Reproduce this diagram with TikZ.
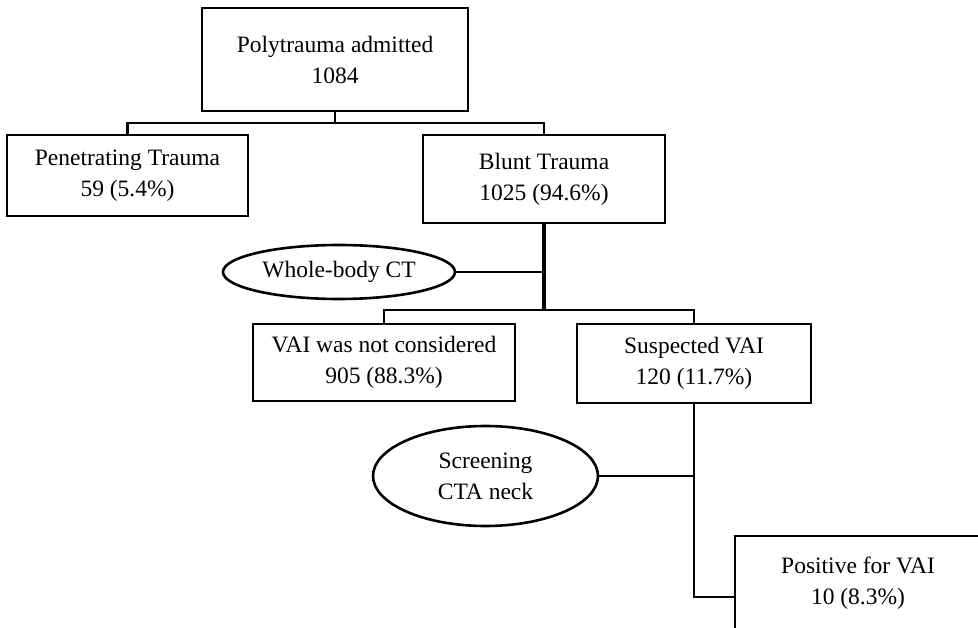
\documentclass[tikz,border=0pt]{standalone}
\usepackage{fontspec}
\setmainfont{Liberation Serif}
\usetikzlibrary{shapes.geometric}
\begin{document}
\begin{tikzpicture}[x=1pt,y=-1pt,
  every node/.style={font=\fontsize{23.5}{31}\selectfont, align=center, inner sep=0pt},
  box/.style={draw, line width=2.8pt, rectangle},
  oval/.style={draw, line width=2.6pt, ellipse},
  link/.style={line width=2.6pt},
  boldlink/.style={line width=4pt}]
\useasboundingbox (0,0) rectangle (978,628);

% boxes
\node[box, minimum width=266pt, minimum height=103pt] (top) at (335,59.5) {Polytrauma admitted\\1084};
\node[box, minimum width=241pt, minimum height=81pt] (pen) at (127.5,175.5) {Penetrating Trauma\\59 (5.4\%)};
\node[box, minimum width=242pt, minimum height=88pt] (blunt) at (544,179) {Blunt Trauma\\1025 (94.6\%)};
\node[box, minimum width=262pt, minimum height=77pt] (vai) at (384,362.5) {VAI was not considered\\905 (88.3\%)};
\node[box, minimum width=234pt, minimum height=79pt] (susp) at (694,363.5) {Suspected VAI\\120 (11.7\%)};
\node[box, minimum width=246pt, minimum height=94pt] (pos) at (858,583) {Positive for VAI\\10 (8.3\%)};

% imaging ellipses
\node[oval, minimum width=232pt, minimum height=54pt] (wb) at (339,272) {Whole-body CT};
\node[oval, minimum width=225pt, minimum height=100pt] (scr) at (485.5,476) {Screening\\CTA neck};

% junction points
\coordinate (j1) at (335,123);
\coordinate (j2) at (544,310);
\coordinate (j3) at (694,597);

% connectors
\draw[link] (top.south) -- (j1);
\draw[link] (pen.north) |- (j1) -| (blunt.north);
\draw[boldlink] (blunt.south) -- (j2);
\draw[link] (wb.east) -- (wb.east -| blunt.south);
\draw[link] (vai.north) |- (j2) -| (susp.north);
\draw[link] (susp.south) -- (j3) -- (j3 -| pos.west);
\draw[link] (scr.east) -- (scr.east -| susp.south);
\end{tikzpicture}
\end{document}
